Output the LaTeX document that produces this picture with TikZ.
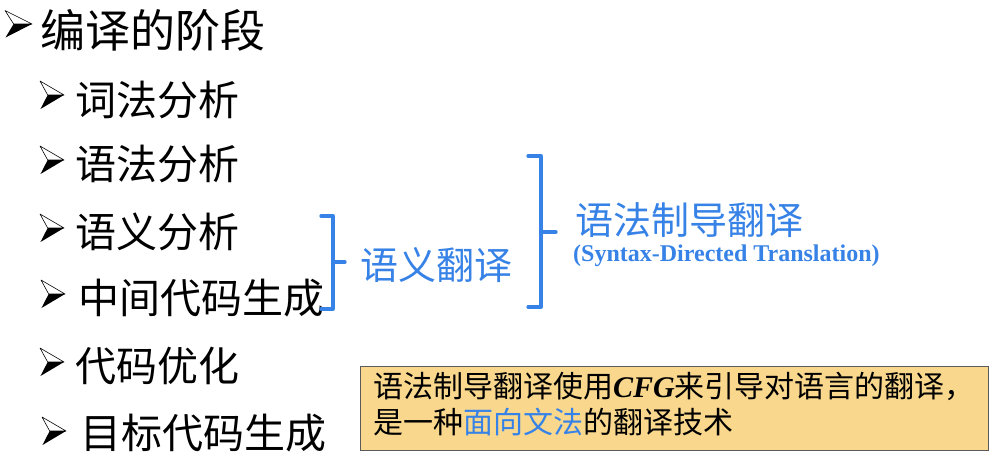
\documentclass[tikz,border=0pt]{standalone}
\usepackage{fontspec}
\setmainfont{Liberation Serif}
\newfontfamily\cjk{Noto Sans CJK SC}
\usetikzlibrary{positioning}
\definecolor{bracec}{RGB}{55,130,230}
\definecolor{notefill}{RGB}{249,216,142}
\definecolor{noteline}{RGB}{90,90,90}

\begin{document}
\begin{tikzpicture}[x=1pt,y=-1pt,
    arrowbul/.pic={
        \filldraw[fill=white,draw=black,line width=0.6pt,line join=round]
            (0,-0.5) -- (1,0) -- (0.32,0) -- cycle;
        \fill[black] (0.32,0) -- (1,0) -- (0.02,0.5) -- cycle;},
    stage/.style={inner sep=0pt,anchor=west,font=\cjk\fontsize{41}{41}\selectfont},
    brace/.style={bracec,line width=3.3pt,line cap=round,line join=round},
    bluelab/.style={inner sep=0pt,anchor=west,text=bracec,font=\cjk\fontsize{38}{38}\selectfont}]
    \useasboundingbox (0,0) rectangle (1004,466);
    % heading
    \pic[xscale=27,yscale=27] at (5,24) {arrowbul};
    \node[stage,font=\cjk\fontsize{45}{45}\selectfont] (t0) at (40,30) {编译的阶段};
    % stages
    \pic[xscale=24,yscale=28] at (40,95) {arrowbul};
    \node[stage] (t1) at (75,100) {词法分析};
    \pic[xscale=24,yscale=28] at (40,160) {arrowbul};
    \node[stage] (t2) at (75,164) {语法分析};
    \pic[xscale=24,yscale=28] at (40,228) {arrowbul};
    \node[stage] (t3) at (75,232) {语义分析};
    \pic[xscale=24,yscale=28] at (41,294) {arrowbul};
    \node[stage] (t4) at (78,298) {中间代码生成};
    \pic[xscale=24,yscale=28] at (40,362) {arrowbul};
    \node[stage] (t5) at (75,366) {代码优化};
    \pic[xscale=24,yscale=28] at (42,431) {arrowbul};
    \node[stage] (t6) at (80,433) {目标代码生成};
    % small brace
    \draw[brace] (321,216) -- (333,216) -- (333,309) -- (321,309);
    \draw[brace] (333,262) -- (345,262);
    \node[bluelab] (sem) at (360,265) {语义翻译};
    % big brace
    \draw[brace] (528,156) -- (541,156) -- (541,307) -- (528,307);
    \draw[brace] (541,232) -- (556,232);
    \node[bluelab] (sdt) at (575,220) {语法制导翻译};
    \node[inner sep=0pt,anchor=west,text=bracec,font=\bfseries\fontsize{24}{24}\selectfont]
        (sdten) at (573,256) {(Syntax-Directed Translation)};
    % note box
    \draw[noteline,fill=notefill,line width=1pt] (360,366) rectangle (988,450);
    \node[inner sep=0pt,anchor=north west,align=left,
        font=\cjk\fontsize{30}{36}\selectfont] (note) at (373,372)
        {语法制导翻译使用{\rmfamily\bfseries\itshape CFG}来引导对语言的翻译，\\
         是一种{\color{bracec}面向文法}的翻译技术};
\end{tikzpicture}
\end{document}
